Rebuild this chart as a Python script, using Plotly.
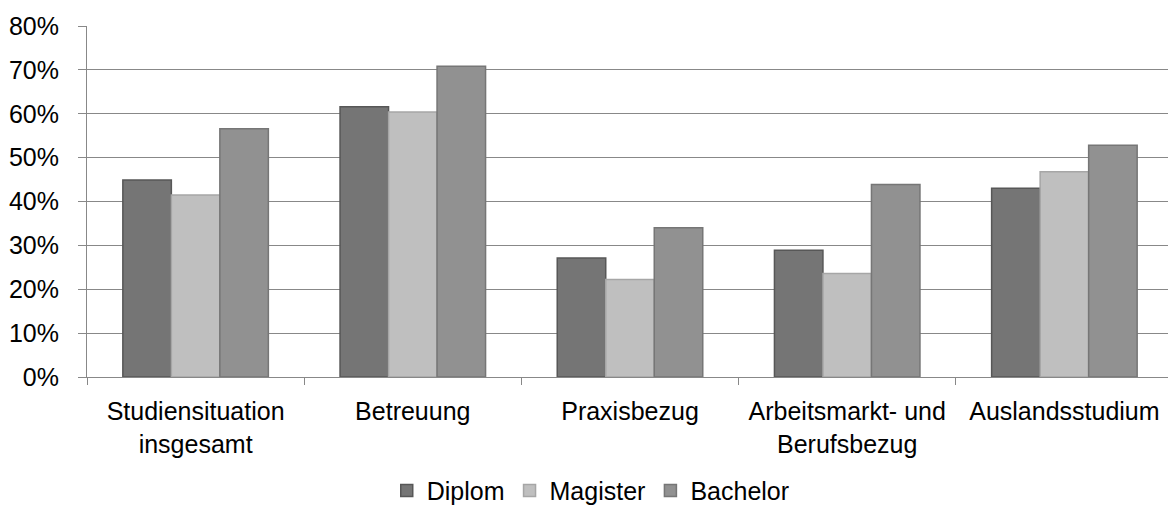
import plotly.graph_objects as go

categories = ["Studiensituation<br>insgesamt", "Betreuung", "Praxisbezug",
              "Arbeitsmarkt- und<br>Berufsbezug", "Auslandsstudium"]
diplom = [0.449, 0.616, 0.271, 0.289, 0.430]
magister = [0.415, 0.604, 0.222, 0.236, 0.468]
bachelor = [0.566, 0.708, 0.340, 0.439, 0.528]
y_ticks = [0, 0.1, 0.2, 0.3, 0.4, 0.5, 0.6, 0.7, 0.8]

series = [
    ("Diplom", diplom, "#757575", "#575757"),
    ("Magister", magister, "#bfbfbf", "#a6a6a6"),
    ("Bachelor", bachelor, "#919191", "#767676"),
]

FONT = "Liberation Sans, Arial, sans-serif"
FS = 25
AXIS_GREY = "#888888"

fig = go.Figure()
for name, vals, fill, edge in series:
    fig.add_trace(go.Bar(
        name=name, x=categories, y=vals,
        marker=dict(color=fill, line=dict(color=edge, width=1.5)),
        hoverinfo="skip",
    ))

fig.update_layout(
    width=1168, height=507,
    margin=dict(l=87, r=0, t=26, b=130, autoexpand=False),
    paper_bgcolor="white", plot_bgcolor="white",
    barmode="group", bargap=0.33, bargroupgap=0,
    font=dict(family=FONT, size=FS, color="black"),
    showlegend=True,
    legend=dict(
        orientation="h", x=0.466, xanchor="center", y=-0.324, yanchor="middle",
        font=dict(family=FONT, size=FS, color="black"),
        traceorder="normal", bgcolor="rgba(0,0,0,0)",
    ),
)

fig.update_xaxes(
    range=[-0.5, 4.477], automargin=False,
    showline=True, linecolor=AXIS_GREY, linewidth=1,
    ticks="outside", tickson="boundaries", ticklen=7, tickcolor=AXIS_GREY,
    ticklabelstandoff=12,
    tickfont=dict(family=FONT, size=FS, color="black"),
    showgrid=False, zeroline=False,
)
fig.update_yaxes(
    range=[0, 0.8], tickvals=y_ticks, tickformat=".0%", automargin=False,
    showline=True, linecolor=AXIS_GREY, linewidth=1,
    ticks="outside", ticklen=8, tickcolor=AXIS_GREY,
    showgrid=True, gridcolor=AXIS_GREY, gridwidth=1,
    zeroline=False, ticklabelstandoff=14,
    tickfont=dict(family=FONT, size=FS, color="black"),
)

fig.write_html("out.html")
